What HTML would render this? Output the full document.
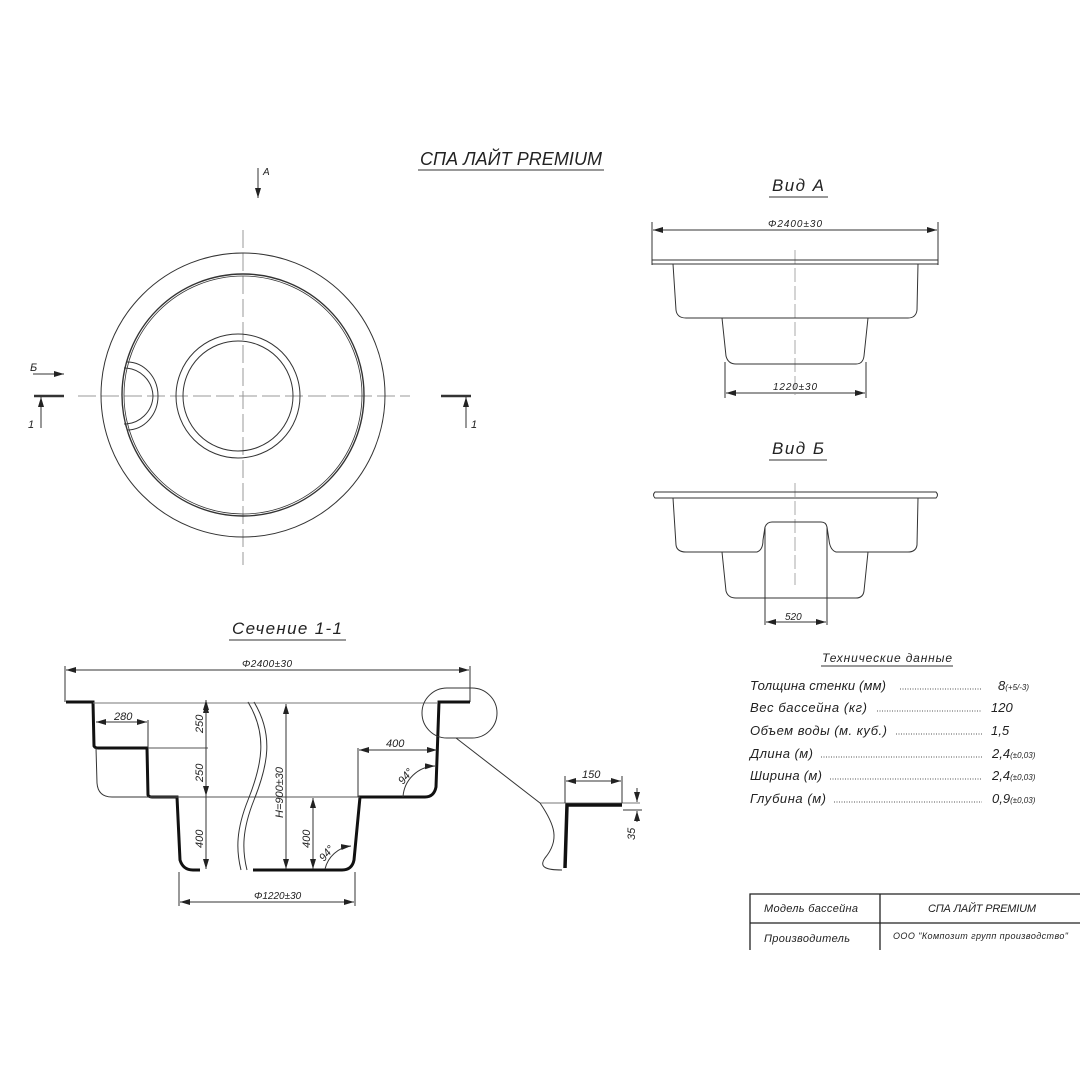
<!DOCTYPE html>
<html><head><meta charset="utf-8"><style>
html,body{margin:0;padding:0;background:#fff;}
svg{display:block;}
text{font-family:"Liberation Sans","DejaVu Sans",sans-serif;font-style:italic;fill:#222;}
</style></head><body>
<svg width="1080" height="1080" viewBox="0 0 1080 1080" xmlns="http://www.w3.org/2000/svg">
<defs>
<marker id="ar" viewBox="0 0 10 6" refX="10" refY="3" markerWidth="10" markerHeight="6" orient="auto-start-reverse" markerUnits="userSpaceOnUse"><path d="M0,0L10,3L0,6z" fill="#222"/></marker>
</defs>
<g fill="none" stroke="#333" stroke-width="1">

<!-- Title -->
<text x="420" y="165" font-size="18" textLength="182" stroke="none">СПА ЛАЙТ PREMIUM</text>
<line x1="418" y1="170" x2="604" y2="170"/>

<!-- Top view -->
<line x1="243" y1="230" x2="243" y2="565" stroke="#999" stroke-dasharray="18,5"/>
<line x1="78" y1="396" x2="410" y2="396" stroke="#999" stroke-dasharray="18,5"/>
<circle cx="243" cy="395" r="142"/>
<circle cx="243" cy="395" r="121" stroke-width="1.4"/>
<circle cx="243" cy="395" r="119" stroke-width="0.8"/>
<circle cx="238" cy="396" r="62"/>
<circle cx="238" cy="396" r="55"/>
<path d="M127,362 A31,34 0 0 1 158,396 A31,34 0 0 1 127,430"/>
<path d="M124,368 A29,29 0 0 1 153,396 A29,29 0 0 1 124,424"/>
<!-- A arrow -->
<line x1="258" y1="168" x2="258" y2="198" marker-end="url(#ar)"/>
<text x="263" y="175" font-size="10" font-style="normal" stroke="none">А</text>
<!-- Б arrow -->
<text x="30" y="371" font-size="11" font-style="normal" stroke="none">Б</text>
<line x1="33" y1="374" x2="64" y2="374" marker-end="url(#ar)"/>
<!-- section marks -->
<line x1="34" y1="396" x2="64" y2="396" stroke-width="2.5"/>
<line x1="41" y1="428" x2="41" y2="397" marker-end="url(#ar)"/>
<text x="28" y="428" font-size="11" font-style="normal" stroke="none">1</text>
<line x1="441" y1="396" x2="471" y2="396" stroke-width="2.5"/>
<line x1="466" y1="428" x2="466" y2="397" marker-end="url(#ar)"/>
<text x="471" y="428" font-size="11" font-style="normal" stroke="none">1</text>

<!-- Вид А -->
<text x="772" y="191" font-size="17" textLength="52" stroke="none">Вид А</text>
<line x1="769" y1="197" x2="828" y2="197"/>
<line x1="652" y1="222" x2="652" y2="265"/>
<line x1="938" y1="222" x2="938" y2="265"/>
<line x1="653" y1="230" x2="937" y2="230" marker-start="url(#ar)" marker-end="url(#ar)"/>
<text x="768" y="227" font-size="10" textLength="54" stroke="none">Φ2400±30</text>
<line x1="795" y1="250" x2="795" y2="395" stroke="#aaa" stroke-dasharray="14,4"/>
<rect x="652" y="260" width="286" height="4"/>
<path d="M673,264 L676,310 Q677,318 686,318 L908,318 Q916,318 917,310 L918,264"/>
<path d="M722,318 L726,356 Q728,364 736,364 L856,364 Q863,364 864,356 L868,318"/>
<line x1="725" y1="362" x2="725" y2="398"/>
<line x1="866" y1="362" x2="866" y2="398"/>
<line x1="726" y1="393" x2="865" y2="393" marker-start="url(#ar)" marker-end="url(#ar)"/>
<text x="773" y="390" font-size="10" textLength="44" stroke="none">1220±30</text>

<!-- Вид Б -->
<text x="772" y="454" font-size="17" textLength="52" stroke="none">Вид Б</text>
<line x1="769" y1="460" x2="827" y2="460"/>
<line x1="795" y1="483" x2="795" y2="585" stroke="#aaa" stroke-dasharray="14,4"/>
<path d="M655,492 L936,492 Q939,495 936,498 L655,498 Q652,495 655,492 Z"/>
<path d="M673,498 L676,545 Q677,552 686,552 L757,552 Q763,550 763,540 L765,527 Q767,522 772,522 L821,522 Q826,522 827,527 L829,540 Q830,550 836,552 L908,552 Q916,552 917,545 L918,498"/>
<path d="M722,552 L726,591 Q728,598 736,598 L856,598 Q863,598 864,591 L868,552"/>
<line x1="765" y1="527" x2="765" y2="625"/>
<line x1="827" y1="527" x2="827" y2="625"/>
<line x1="766" y1="622" x2="826" y2="622" marker-start="url(#ar)" marker-end="url(#ar)"/>
<text x="785" y="620" font-size="10" stroke="none">520</text>

<!-- Сечение 1-1 -->
<text x="232" y="634" font-size="17" textLength="110" stroke="none">Сечение 1-1</text>
<line x1="229" y1="640" x2="346" y2="640"/>
<line x1="65" y1="666" x2="65" y2="702"/>
<line x1="470" y1="666" x2="470" y2="702"/>
<line x1="66" y1="670" x2="469" y2="670" marker-start="url(#ar)" marker-end="url(#ar)"/>
<text x="242" y="667" font-size="10" textLength="50" stroke="none">Φ2400±30</text>
<path d="M66,702 L93,702 L94,746 Q95,748 98,748 L147,748 L148,795 Q149,797 152,797 L177,797 L180,860 Q183,870 193,870 L200,870" stroke="#111" stroke-width="3"/>
<path d="M253,870 L342,870 Q352,870 354,860 L360,797 L425,797 Q434,797 436,787 L439,702 L470,702" stroke="#111" stroke-width="3"/>
<path d="M96,748 L97,783 Q98,797 112,797 L150,797"/>
<line x1="93" y1="703" x2="437" y2="703" stroke="#777"/>
<line x1="148" y1="748" x2="208" y2="748" stroke="#555"/>
<line x1="150" y1="797" x2="360" y2="797" stroke="#555"/>
<path d="M248,702 C268,735 262,765 248,800 C236,830 236,850 241,870"/>
<path d="M254,702 C274,735 268,765 254,800 C242,830 242,850 247,870"/>
<line x1="148" y1="720" x2="148" y2="748"/>
<line x1="96" y1="722" x2="147" y2="722" marker-start="url(#ar)" marker-end="url(#ar)"/>
<text x="114" y="720" font-size="11" stroke="none">280</text>
<line x1="206" y1="703" x2="206" y2="869" marker-start="url(#ar)"/>
<line x1="206" y1="748" x2="206" y2="700" marker-end="url(#ar)"/>
<line x1="206" y1="752" x2="206" y2="796" marker-end="url(#ar)"/>
<line x1="206" y1="801" x2="206" y2="869" marker-end="url(#ar)"/>
<text transform="translate(203,733) rotate(-90)" font-size="11" stroke="none">250</text>
<text transform="translate(203,782) rotate(-90)" font-size="11" stroke="none">250</text>
<text transform="translate(203,848) rotate(-90)" font-size="11" stroke="none">400</text>
<line x1="286" y1="704" x2="286" y2="869" marker-start="url(#ar)" marker-end="url(#ar)"/>
<text transform="translate(283,818) rotate(-90)" font-size="11" stroke="none">H=900±30</text>
<line x1="313" y1="798" x2="313" y2="869" marker-start="url(#ar)" marker-end="url(#ar)"/>
<text transform="translate(310,848) rotate(-90)" font-size="11" stroke="none">400</text>
<line x1="358" y1="748" x2="358" y2="797"/>
<line x1="359" y1="750" x2="437" y2="750" marker-start="url(#ar)" marker-end="url(#ar)"/>
<text x="386" y="747" font-size="11" stroke="none">400</text>
<path d="M403,797 A33,33 0 0 1 435,766" marker-end="url(#ar)"/>
<text transform="translate(403,785) rotate(-50)" font-size="11" stroke="none">94°</text>
<path d="M325,869 A30,30 0 0 1 351,846" marker-end="url(#ar)"/>
<text transform="translate(324,862) rotate(-50)" font-size="11" stroke="none">94°</text>
<line x1="179" y1="872" x2="179" y2="906"/>
<line x1="355" y1="872" x2="355" y2="906"/>
<line x1="180" y1="902" x2="354" y2="902" marker-start="url(#ar)" marker-end="url(#ar)"/>
<text x="254" y="899" font-size="10" stroke="none">Φ1220±30</text>

<!-- detail -->
<rect x="422" y="688" width="75" height="50" rx="25"/>
<line x1="456" y1="738" x2="540" y2="803"/>
<line x1="540" y1="803" x2="640" y2="803" stroke="#777"/>
<path d="M540,803 C555,825 560,840 545,858 C538,868 548,870 562,870"/>
<path d="M565,868 L567,805 L622,805" stroke="#111" stroke-width="3.5"/>
<line x1="565" y1="776" x2="565" y2="803"/>
<line x1="622" y1="776" x2="622" y2="803"/>
<line x1="566" y1="781" x2="621" y2="781" marker-start="url(#ar)" marker-end="url(#ar)"/>
<text x="582" y="778" font-size="11" stroke="none">150</text>
<line x1="623" y1="810" x2="642" y2="810"/>
<line x1="637" y1="788" x2="637" y2="802" marker-end="url(#ar)"/>
<line x1="637" y1="822" x2="637" y2="811" marker-end="url(#ar)"/>
<text transform="translate(635,840) rotate(-90)" font-size="11" stroke="none">35</text>

<!-- Tech data -->
<text x="822" y="662" font-size="12" textLength="130" stroke="none">Технические данные</text>
<line x1="821" y1="666" x2="953" y2="666"/>
<g font-size="13" stroke="none">
<text x="750" y="690" textLength="136">Толщина стенки (мм)</text>
<text x="750" y="712" textLength="117">Вес бассейна (кг)</text>
<text x="750" y="735" textLength="137">Объем воды (м. куб.)</text>
<text x="750" y="758" textLength="63">Длина (м)</text>
<text x="750" y="780" textLength="72">Ширина (м)</text>
<text x="750" y="803" textLength="76">Глубина (м)</text>
<text x="998" y="690">8<tspan font-size="8">(+5/-3)</tspan></text>
<text x="991" y="712">120</text>
<text x="991" y="735">1,5</text>
<text x="992" y="758">2,4<tspan font-size="8">(±0,03)</tspan></text>
<text x="992" y="780">2,4<tspan font-size="8">(±0,03)</tspan></text>
<text x="992" y="803">0,9<tspan font-size="8">(±0,03)</tspan></text>
</g>
<g stroke="#555" stroke-dasharray="1,1.5">
<line x1="900" y1="689" x2="982" y2="689"/>
<line x1="877" y1="711" x2="982" y2="711"/>
<line x1="896" y1="734" x2="982" y2="734"/>
<line x1="821" y1="757" x2="982" y2="757"/>
<line x1="830" y1="779" x2="982" y2="779"/>
<line x1="834" y1="802" x2="982" y2="802"/>
</g>

<!-- table -->
<path d="M750,950 L750,894 L1080,894 M750,923 L1080,923 M880,894 L880,950" stroke="#222" stroke-width="1.3"/>
<text x="764" y="912" font-size="11" textLength="94" stroke="none">Модель бассейна</text>
<text x="928" y="912" font-size="11" textLength="108" stroke="none">СПА ЛАЙТ PREMIUM</text>
<text x="764" y="942" font-size="11" textLength="86" stroke="none">Производитель</text>
<text x="893" y="939" font-size="9" textLength="175" stroke="none">ООО "Композит групп производство"</text>
</g>
</svg>
</body></html>
